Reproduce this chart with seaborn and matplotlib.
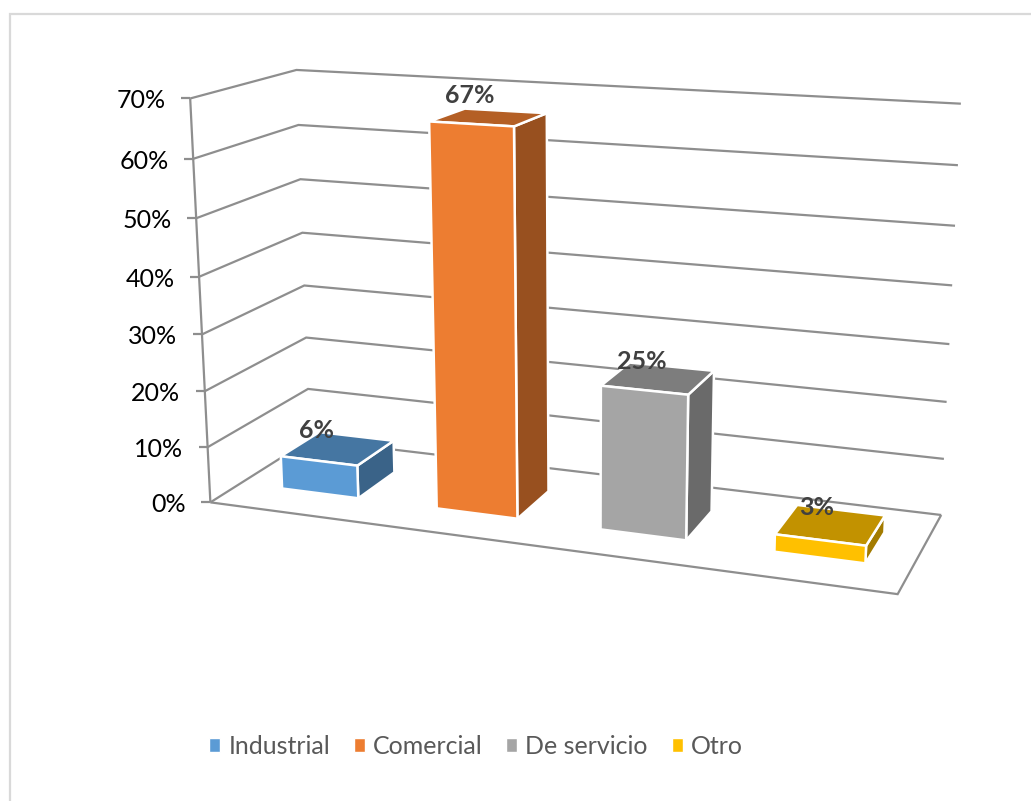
import numpy as np
import pandas as pd
import matplotlib
matplotlib.use("Agg")
import matplotlib.pyplot as plt
from matplotlib.patches import Polygon
from matplotlib.transforms import Affine2D, Transform
import seaborn as sns

# Chart data
categories = ["Industrial", "Comercial", "De servicio", "Otro"]
shares = [0.06, 0.67, 0.25, 0.03]
share_labels = ["6%", "67%", "25%", "3%"]
axis_ticks = [0.0, 0.1, 0.2, 0.3, 0.4, 0.5, 0.6, 0.7]
tick_labels = ["0%", "10%", "20%", "30%", "40%", "50%", "60%", "70%"]
colors = ["#5B9BD5", "#ED7D31", "#A5A5A5", "#FFC000"]

# Box geometry: frame corners on screen, listed from 0% to 70%
WIDTH, HEIGHT = 1031, 801
front_left = [(210.7, 503), (207, 447), (205, 391), (202, 334), (199, 277), (196.7, 218), (193, 159), (190, 98.7)]
back_left = [(308, 389), (306.7, 337), (304, 286), (301.7, 232.7), (301, 179), (298, 125), (296.7, 70)]
back_right = [(941, 515), (944, 459), (947, 402), (949, 344), (952, 285), (955, 226), (958, 166), (961, 103)]
front_right = (897.7, 594)
X_MIN, X_MAX = -0.5, 3.5
BAR_WIDTH = 0.5
DEPTH_FRONT, DEPTH_BACK = 0.34, 0.74
BAR_SHIFT = np.array([-1.5, 4.0])
label_offsets = [(-40, -6), (-36, -15), (-30, -5), (-24, -3)]

sns.set_theme(style="white", rc={"font.family": ["Lato", "DejaVu Sans"]})


def fit_camera():
    """Solve the 3x4 projection of (category, depth, value) onto the screen."""
    world, screen_pts = [], []
    for z, p in zip(axis_ticks, front_left):
        world.append((X_MIN, 0, z)); screen_pts.append(p)
    for z, p in zip(axis_ticks[1:], back_left):
        world.append((X_MIN, 1, z)); screen_pts.append(p)
    for z, p in zip(axis_ticks, back_right):
        world.append((X_MAX, 1, z)); screen_pts.append(p)
    world.append((X_MAX, 0, 0)); screen_pts.append(front_right)
    rows = []
    for (x, y, z), (u, v) in zip(world, screen_pts):
        h = [x, y, z, 1]
        rows.append(h + [0, 0, 0, 0] + [-u * c for c in h])
        rows.append([0, 0, 0, 0] + h + [-v * c for c in h])
    return np.linalg.svd(np.array(rows, float))[2][-1].reshape(3, 4)


CAMERA = fit_camera()


def project(x, y, z):
    h = CAMERA @ np.array([x, y, z, 1.0])
    return h[:2] / h[2]


def project_bar(x, y, z):
    return project(x, y, z) + BAR_SHIFT


screen = Affine2D().scale(1, -1).translate(0, HEIGHT)


class DepthPlane(Transform):
    """Maps (category, value) on a plane of constant depth to the canvas."""
    input_dims = output_dims = 2
    is_separable = False
    has_inverse = False

    def __init__(self, plane_depth):
        super().__init__()
        self.plane_depth = plane_depth

    def transform_non_affine(self, values):
        values = np.asarray(values, float)
        pixels = np.array([project_bar(a, self.plane_depth, b) for a, b in values])
        return screen.transform(pixels)


fig = plt.figure(figsize=(WIDTH / 100, HEIGHT / 100), dpi=100, facecolor="white")
ax = fig.add_axes([0, 0, 1, 1])

frame = pd.DataFrame({"tipo": categories, "porcentaje": shares})
sns.barplot(data=frame, x="tipo", y="porcentaje", hue="tipo", palette=colors,
            width=BAR_WIDTH, saturation=1, ax=ax, legend=True, zorder=5)
ax.set_xlim(X_MIN, X_MAX)
ax.set_ylim(0, 1)
ax.set_xlabel("")
ax.set_ylabel("")
ax.axis("off")


def trace(points, **kw):
    pts = np.array(points)
    ax.plot(pts[:, 0], pts[:, 1], transform=screen, clip_on=False,
            solid_capstyle="butt", solid_joinstyle="miter", **kw)


# Outer chart border
trace([(10, HEIGHT), (10, 14), (WIDTH, 14)], color="#D9D9D9", lw=1.6, zorder=1)

# Walls, floor and graduations
grid = dict(color="#8E8E8E", lw=1.6, zorder=2)
for z, label in zip(axis_ticks, tick_labels):
    corner = project(X_MIN, 0, z)
    trace([project(X_MIN, 0, z), project(X_MIN, 1, z), project(X_MAX, 1, z)], **grid)
    trace([corner - (9, 0), corner], **grid)
    ax.annotate(label, xy=corner, xycoords=screen, xytext=(corner[0] - 24.5, corner[1] + 2.5),
                textcoords=screen, ha="right", va="center", fontsize=18, color="black")
trace([project(X_MIN, 0, 0), project(X_MIN, 0, 0.7)], **grid)
trace([project(X_MIN, 0, 0), project(X_MAX, 0, 0), project(X_MAX, 1, 0)], **grid)


def shade(color, factor):
    return tuple(c * factor for c in matplotlib.colors.to_rgb(color))


# Extrude each bar: the seaborn rectangle becomes the front face
front_plane = DepthPlane(DEPTH_FRONT)
bars = list(ax.patches)
for bar, value, text, color, offset in zip(bars, shares, share_labels, colors, label_offsets):
    x0, x1 = bar.get_x(), bar.get_x() + bar.get_width()
    top = bar.get_height()
    edge = dict(edgecolor="white", lw=1.8, joinstyle="round", transform=screen, clip_on=False)
    side = [project_bar(x1, DEPTH_FRONT, 0), project_bar(x1, DEPTH_BACK, 0),
            project_bar(x1, DEPTH_BACK, top), project_bar(x1, DEPTH_FRONT, top)]
    cap = [project_bar(x0, DEPTH_FRONT, top), project_bar(x1, DEPTH_FRONT, top),
           project_bar(x1, DEPTH_BACK, top), project_bar(x0, DEPTH_BACK, top)]
    ax.add_patch(Polygon(side, facecolor=shade(color, 0.64), zorder=3, **edge))
    ax.add_patch(Polygon(cap, facecolor=shade(color, 0.76), zorder=4, **edge))
    bar.set_transform(front_plane)
    bar.set_clip_on(False)
    bar.set_edgecolor("white")
    bar.set_linewidth(1.8)
    anchor = project_bar((x0 + x1) / 2, DEPTH_BACK, top) + np.array(offset)
    ax.annotate(text, xy=anchor, xycoords=screen, ha="center", va="center",
                fontsize=18, fontweight="bold", color="#404040", zorder=8)

sns.move_legend(ax, "center", bbox_to_anchor=(476 / WIDTH, 1 - 746.5 / HEIGHT), ncols=4,
                frameon=False, title=None, fontsize=18, labelcolor="#595959",
                handlelength=0.44, handleheight=0.44, handletextpad=0.32, columnspacing=0.95)

fig.savefig("out.png", dpi=100, facecolor="white")
